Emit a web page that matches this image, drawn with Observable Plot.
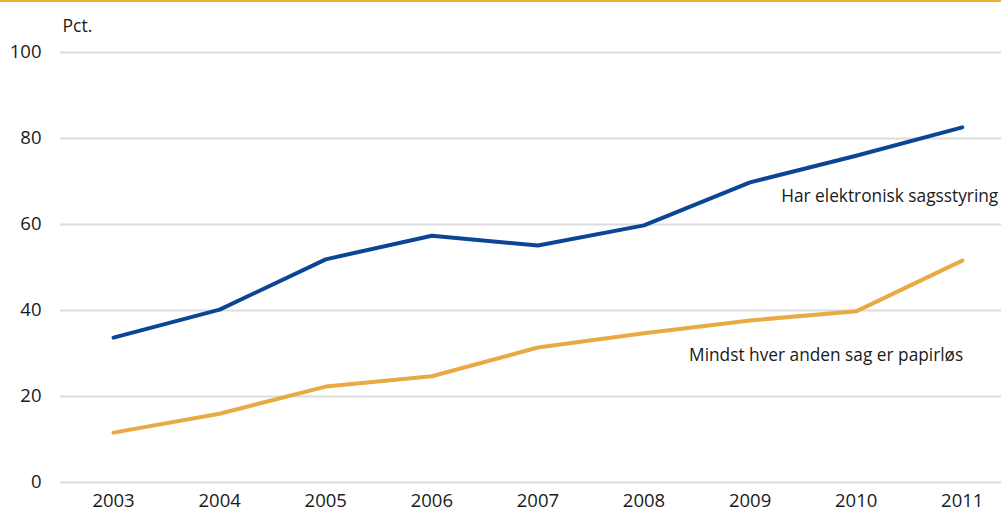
<!DOCTYPE html>
<html>
<head>
<meta charset="utf-8">
<script src="https://cdn.jsdelivr.net/npm/d3@7"></script>
<script src="https://cdn.jsdelivr.net/npm/@observablehq/plot@0.6"></script>
<style>
  html, body { margin: 0; padding: 0; background: #fff; }
  #wrap { position: relative; width: 1001px; height: 516px; overflow: hidden; }
  #topline { position: absolute; left: 0; top: 0; width: 1001px; height: 2px; background: #e8b030; }
  #chart svg { display: block; }
</style>
</head>
<body>
<div id="wrap">
  <div id="chart"></div>
  <div id="topline"></div>
</div>
<script>
const years = [2003, 2004, 2005, 2006, 2007, 2008, 2009, 2010, 2011];
const elektronisk = [33.7, 40.2, 51.9, 57.4, 55.1, 59.8, 69.8, 76.0, 82.6];
const papirlos = [11.6, 16.0, 22.3, 24.7, 31.4, 34.7, 37.7, 39.8, 51.6];
const seriesNames = ["Har elektronisk sagsstyring", "Mindst hver anden sag er papirløs"];
const seriesColors = ["#0b4595", "#e8aa42"];
const yTicks = [0, 20, 40, 60, 80, 100];
const yUnit = "Pct.";

const rows = [];
years.forEach((yr, i) => {
  rows.push({year: yr, value: elektronisk[i], series: seriesNames[0]});
  rows.push({year: yr, value: papirlos[i], series: seriesNames[1]});
});
const lastPoints = [
  {year: years[years.length - 1], value: elektronisk[elektronisk.length - 1], series: seriesNames[0]},
  {year: years[years.length - 1], value: papirlos[papirlos.length - 1], series: seriesNames[1]}
];

const font = "'Open Sans', sans-serif";
const ink = "#1a1a1a";

const plot = Plot.plot({
  width: 1001,
  height: 516,
  marginTop: 52,
  marginBottom: 34,
  marginLeft: 60,
  marginRight: 0,
  style: {fontFamily: font, fontSize: "17px", color: ink, background: "#fff"},
  x: {domain: [2002.5, 2011.37], ticks: years, tickFormat: d => String(d), tickSize: 0, label: null},
  y: {domain: [0, 100], ticks: yTicks, tickSize: 0, label: null},
  color: {domain: seriesNames, range: seriesColors},
  marks: [
    Plot.ruleY(yTicks, {stroke: "#dcdcdc", strokeWidth: 2}),
    Plot.axisY({ticks: yTicks, tickSize: 0, tickPadding: 19, label: null, fontSize: 18.5, fill: ink}),
    Plot.axisX({ticks: years, tickFormat: d => String(d), tickSize: 0, tickPadding: 11, label: null, fontSize: 18.5, fill: ink}),
    Plot.text([yUnit], {frameAnchor: "top-left", dx: 2, dy: -33, text: d => d, textAnchor: "start", fontSize: 17.5, fill: ink}),
    Plot.line(rows, {x: "year", y: "value", z: "series", stroke: "series", strokeWidth: 4, strokeLinejoin: "round", strokeLinecap: "round"}),
    Plot.text(lastPoints.filter(d => d.series === seriesNames[0]), {x: "year", y: "value", text: "series", textAnchor: "end", dx: 36, dy: 69, fontSize: 17.3, fill: ink}),
    Plot.text(lastPoints.filter(d => d.series === seriesNames[1]), {x: "year", y: "value", text: "series", textAnchor: "end", dx: 1, dy: 95, fontSize: 17.3, fill: ink})
  ]
});
document.getElementById("chart").appendChild(plot);
</script>
</body>
</html>
